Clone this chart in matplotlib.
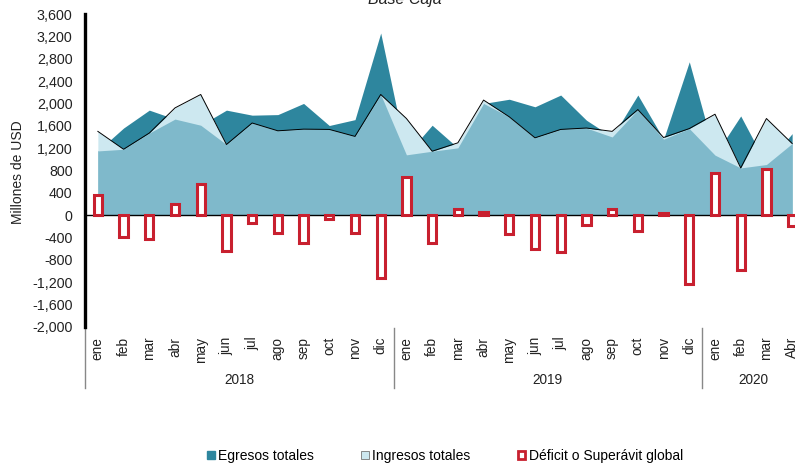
import numpy as np
import matplotlib
matplotlib.use('Agg')
import matplotlib.pyplot as plt
from matplotlib.patches import Patch
from matplotlib.transforms import blended_transform_factory

plt.rcParams['font.family'] = ['Liberation Sans', 'DejaVu Sans']

# monthly data, millions of USD
months = ['ene', 'feb', 'mar', 'abr', 'may', 'jun', 'jul', 'ago', 'sep', 'oct', 'nov', 'dic',
          'ene', 'feb', 'mar', 'abr', 'may', 'jun', 'jul', 'ago', 'sep', 'oct', 'nov', 'dic',
          'ene', 'feb', 'mar', 'Abr']
years = ['2018', '2019', '2020']
months_per_year = [12, 12, 4]

egresos = [1150, 1560, 1880, 1720, 1610, 1880, 1790, 1800, 2000, 1605, 1710, 3260,
           1080, 1610, 1205, 2000, 2075, 1940, 2150, 1700, 1400, 2150, 1360, 2745,
           1075, 1776, 907, 1460]
ingresos = [1500, 1180, 1470, 1920, 2160, 1265, 1650, 1510, 1540, 1535, 1410, 2160,
            1730, 1145, 1295, 2060, 1760, 1385, 1535, 1560, 1500, 1890, 1390, 1550,
            1807, 846, 1730, 1283]
deficit = [358, -388, -430, 197, 555, -638, -137, -310, -490, -72, -316, -1115,
           685, -495, 120, 60, -340, -597, -655, -167, 107, -286, 40, -1222,
           757, -972, 835, -197]

teal = '#2e869e'
pale = '#cde8f0'
mid = '#7fb9cb'
red = '#c8202f'
txt = '#222222'

x = np.arange(len(months))
eg = np.array(egresos)
ing = np.array(ingresos)

fig = plt.figure(figsize=(7.95, 4.67), dpi=100)
ax = fig.add_axes([85/795, 140/467, 720/795, 313/467])

# areas: egresos behind, ingresos light on top, overlap in the middle tone
ax.fill_between(x, 0, eg, color=teal, lw=0, zorder=1)
ax.fill_between(x, 0, ing, color=pale, lw=0, zorder=2)
ax.fill_between(x, 0, np.minimum(eg, ing), color=mid, lw=0, zorder=3)
ax.plot(x, ing, color='black', lw=0.7, zorder=4)

ax.axhline(0, color='black', lw=1, zorder=5)

ax.bar(x, deficit, width=0.32, facecolor='white', edgecolor=red, lw=2.2, zorder=6)

ax.set_xlim(-0.5, len(months) - 0.5)
ax.set_ylim(-2000, 3600)
ax.set_yticks(np.arange(-2000, 3601, 400))
ax.set_yticklabels(['{:,}'.format(v) for v in range(-2000, 3601, 400)], fontsize=10.3, color=txt)
ax.tick_params(axis='y', length=0, pad=9)

ax.set_xticks(x)
ax.set_xticklabels(months, rotation=90, fontsize=9.8, color=txt)
ax.tick_params(axis='x', length=0, pad=7)

for s in ['top', 'right', 'bottom']:
    ax.spines[s].set_visible(False)
ax.spines['left'].set_linewidth(2.4)
ax.spines['left'].set_zorder(7)

# year groups below the month labels
trans = blended_transform_factory(ax.transData, ax.transAxes)
start = 0
seps = [-0.5]
for yr, n in zip(years, months_per_year):
    ax.text(start + (n - 1) / 2, -0.17, yr, transform=trans, ha='center', va='center',
            fontsize=9.8, color=txt)
    start += n
    if start < len(months):
        seps.append(start - 0.5)
for s in seps:
    ax.plot([s, s], [-0.003, -0.195], transform=trans, color='#888888', lw=1, clip_on=False)

fig.text(18/795, 1 - 172/467, 'Millones de USD', rotation=90, ha='center', va='center',
         fontsize=10, color=txt)
fig.text(405/795, 1 - 4/467, 'Base Caja', style='italic', ha='center', va='baseline',
         fontsize=11.5, color=txt)

handles = [Patch(facecolor=teal, edgecolor=teal),
           Patch(facecolor=pale, edgecolor='#777777', lw=0.6),
           Patch(facecolor='white', edgecolor=red, lw=2)]
labels = ['Egresos totales', 'Ingresos totales', 'Déficit o Superávit global']
fig.legend(handles, labels, loc='center', bbox_to_anchor=(445/795, 1 - 456/467), ncol=3,
           frameon=False, fontsize=10, handlelength=0.55, handleheight=0.55,
           handletextpad=0.25, columnspacing=3.4)

plt.savefig('out.png', dpi=100)
